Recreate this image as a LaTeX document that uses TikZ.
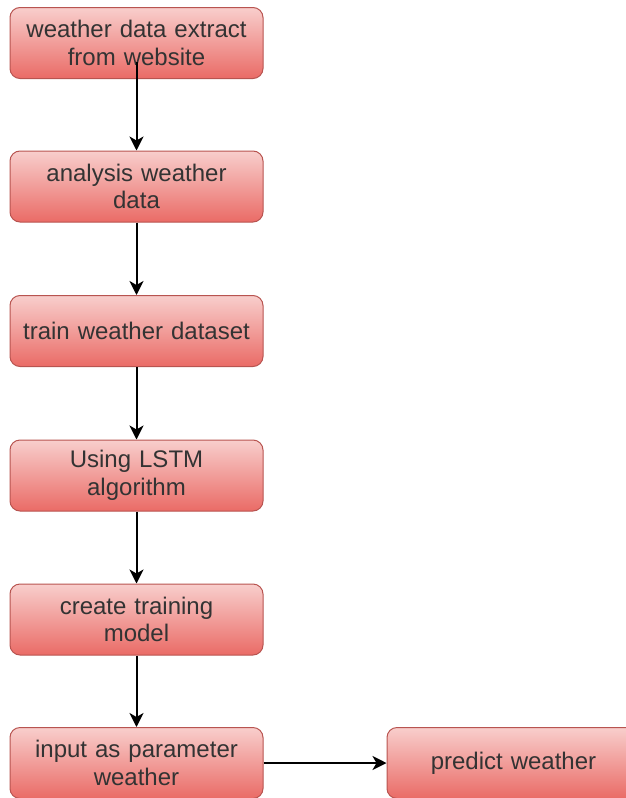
\documentclass[tikz,border=0pt]{standalone}
\usepackage{fontspec}
\setmainfont{Liberation Sans}
\usetikzlibrary{arrows.meta}
\definecolor{fillTop}{HTML}{F8CECC}
\definecolor{fillBot}{HTML}{EA6B66}
\definecolor{edgecol}{HTML}{B85450}
\definecolor{txtcol}{HTML}{333333}
\begin{document}
\begin{tikzpicture}[x=1pt,y=-1pt,
  box/.style={draw=edgecol, line width=1pt, rounded corners=10pt,
    top color=fillTop, bottom color=fillBot,
    minimum width=253pt, minimum height=71pt, text width=245pt,
    align=center, inner sep=0pt, text=txtcol,
    font=\fontsize{24}{27.5}\selectfont},
  conn/.style={-{Stealth[length=14pt,width=14pt,inset=4pt]}, line width=2pt, black}]
\useasboundingbox (0,0) rectangle (626,798);
\node[box] (b1) at (136.5,43) {weather data extract\\from website};
\node[box] (b2) at (136.5,186.5) {analysis weather\\data};
\node[box] (b3) at (136.5,331) {train weather dataset};
\node[box] (b4) at (136.5,475.5) {Using LSTM\\algorithm};
\node[box] (b5) at (136.5,619.5) {create training\\model};
\node[box] (b6) at (136.5,763) {input as parameter\\weather};
\node[box] (b7) at (513.5,763) {predict weather};
\draw[conn] ([yshift=17pt]b1.south) -- (b2.north);
\draw[conn] (b2) -- (b3);
\draw[conn] (b3) -- (b4);
\draw[conn] (b4) -- (b5);
\draw[conn] (b5) -- (b6);
\draw[conn] (b6) -- (b7);
\end{tikzpicture}
\end{document}
